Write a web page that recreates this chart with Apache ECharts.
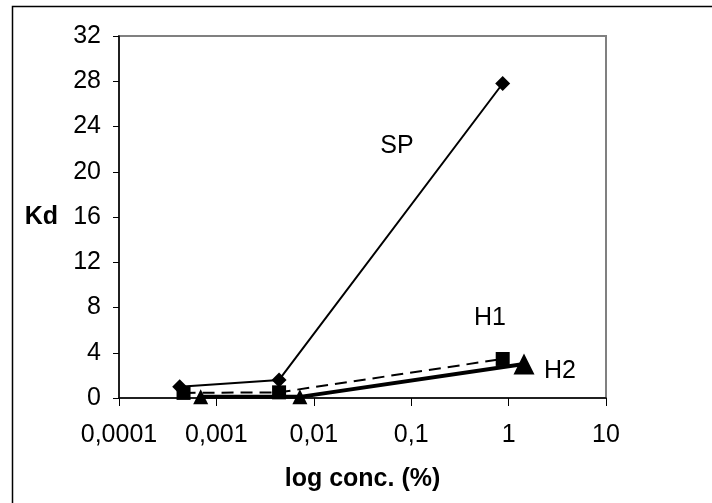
<!DOCTYPE html>
<html>
<head>
<meta charset="utf-8">
<script src="https://cdn.jsdelivr.net/npm/echarts@6/dist/echarts.min.js"></script>
<style>html,body{margin:0;padding:0;background:#fff}#c{width:712px;height:503px}</style>
</head>
<body>
<div id="c"></div>
<script>
var spX = [0.00042, 0.0044, 0.87];
var spY = [1.0, 1.6, 27.8];
var h1X = [0.00046, 0.0044, 0.87];
var h1Y = [0.45, 0.5, 3.45];
var h2X = [0.00069, 0.0072, 1.44];
var h2Y = [0.1, 0.1, 3.0];
var yTicks = [0, 4, 8, 12, 16, 20, 24, 28, 32];
var xTickLabels = {'0.0001':'0,0001','0.001':'0,001','0.01':'0,01','0.1':'0,1','1':'1','10':'10'};

function pairs(xs, ys){ return xs.map(function(x,i){ return [x, ys[i]]; }); }

var FONT = '"Liberation Sans", Arial, sans-serif';
var chart = echarts.init(document.getElementById('c'));
var h2Data = pairs(h2X, h2Y).map(function(p, i){
  return { value: p, symbolSize: i === 2 ? [21, 21] : [15, 15] };
});
chart.setOption({
  animation: false,
  backgroundColor: '#fff',
  grid: { left: 119, top: 36, right: 106, bottom: 105, show: true, borderColor: '#808080', borderWidth: 2, backgroundColor: 'transparent' },
  xAxis: {
    type: 'log', logBase: 10, min: 0.0001, max: 10,
    axisLine: { onZero: false, lineStyle: { color: '#000', width: 1.5 } },
    axisTick: { show: true, inside: false, length: 8, lineStyle: { color: '#000' } },
    minorTick: { show: false },
    splitLine: { show: false },
    axisLabel: {
      color: '#000', fontSize: 25, fontFamily: FONT, margin: 25,
      formatter: function(v){ var k = String(+v.toPrecision(3)); return xTickLabels[k] !== undefined ? xTickLabels[k] : k.replace('.', ','); }
    },
    name: 'log conc. (%)', nameLocation: 'middle', nameGap: 69,
    nameTextStyle: { color: '#000', fontSize: 25, fontWeight: 'bold', fontFamily: FONT }
  },
  yAxis: {
    type: 'value', min: yTicks[0], max: yTicks[yTicks.length - 1], interval: 4,
    axisLine: { show: true, lineStyle: { color: '#000', width: 1.5 } },
    axisTick: { show: true, inside: false, length: 6, lineStyle: { color: '#000' } },
    splitLine: { show: false },
    axisLabel: { color: '#000', fontSize: 25, fontFamily: FONT, margin: 18 },
    name: 'Kd', nameLocation: 'middle', nameRotate: 0, nameGap: 61,
    nameTextStyle: { color: '#000', fontSize: 25, fontWeight: 'bold', fontFamily: FONT }
  },
  graphic: [
    { type: 'rect', shape: { x: 12.5, y: 6.5, width: 720, height: 520 }, style: { fill: 'none', stroke: '#000', lineWidth: 1.5 }, z: 100 },
    { type: 'text', x: 397, y: 146, style: { text: 'SP', font: '25px "Liberation Sans", Arial, sans-serif', fill: '#000', align: 'center', verticalAlign: 'middle' } },
    { type: 'text', x: 490, y: 318, style: { text: 'H1', font: '25px "Liberation Sans", Arial, sans-serif', fill: '#000', align: 'center', verticalAlign: 'middle' } },
    { type: 'text', x: 560, y: 371, style: { text: 'H2', font: '25px "Liberation Sans", Arial, sans-serif', fill: '#000', align: 'center', verticalAlign: 'middle' } }
  ],
  series: [
    { name: 'SP', type: 'line', data: pairs(spX, spY), symbol: 'diamond', symbolSize: 15,
      lineStyle: { color: '#000', width: 2 }, itemStyle: { color: '#000' }, z: 3 },
    { name: 'H1', type: 'line', data: pairs(h1X, h1Y), symbol: 'rect', symbolSize: 14,
      lineStyle: { color: '#000', width: 2, type: [12, 7] }, itemStyle: { color: '#000' }, z: 4 },
    { name: 'H2', type: 'line', data: h2Data, symbol: 'triangle',
      lineStyle: { color: '#000', width: 4 }, itemStyle: { color: '#000' }, z: 5 }
  ]
});
</script>
</body>
</html>
